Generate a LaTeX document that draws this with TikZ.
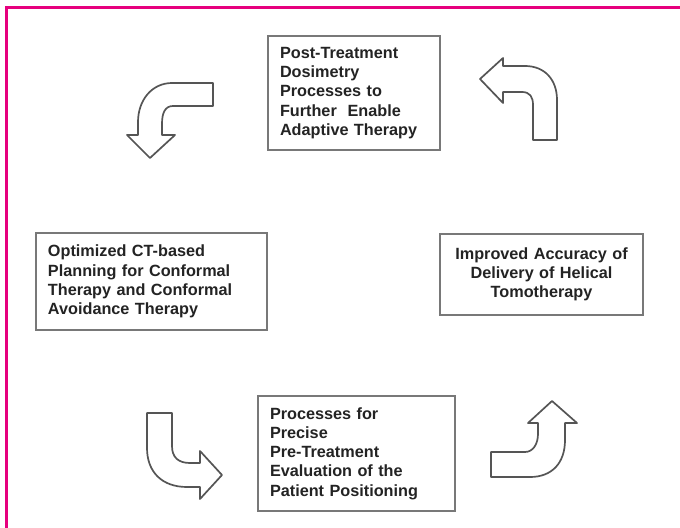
\documentclass[tikz,border=0pt]{standalone}
\usepackage{fontspec}
\setmainfont{Liberation Sans}
\definecolor{frame}{RGB}{230,0,126}
\definecolor{boxline}{RGB}{120,120,120}
\definecolor{arrline}{RGB}{85,85,85}
\definecolor{txt}{RGB}{35,35,35}
\begin{document}
\begin{tikzpicture}[x=1bp,y=-1bp,
  box/.style={draw=boxline, line width=1.5bp, fill=white, inner xsep=12bp, inner ysep=0pt,
    font=\bfseries\fontsize{16.3}{19.3}\selectfont, text=txt},
  blockarrow/.style={draw=arrline, line width=1.7bp, fill=white, line join=round}]
\useasboundingbox (0,0) rectangle (680,528);
\fill[white] (0,0) rectangle (680,528);
% magenta frame (top and left only)
\draw[frame, line width=3bp] (6,528) -- (6,8) -- (680,8);

% boxes
\node[box, minimum width=172bp, minimum height=114bp, text width=148bp, align=left] (post) at (354,93)
  {Post-Treatment\\Dosimetry\\Processes to\\Further~ Enable\\Adaptive Therapy};
\node[box, minimum width=231bp, minimum height=97bp, text width=207bp, align=left] (plan) at (151.5,281.5)
  {Optimized CT-based\\Planning for Conformal\\Therapy and Conformal\\Avoidance Therapy};
\node[box, minimum width=203bp, minimum height=81bp, text width=179bp, align=center] (deliv) at (541.5,274.5)
  {Improved Accuracy of\\Delivery of Helical\\Tomotherapy};
\node[box, minimum width=197bp, minimum height=115bp, text width=173bp, align=left] (pre) at (356.5,453.5)
  {Processes for\\Precise\\Pre-Treatment\\Evaluation of the\\Patient Positioning};

% curved block arrows
% top-left (down)
\draw[blockarrow] (213,83) -- (172,83) .. controls (152,83) and (138,100) .. (138,122) -- (138,135)
  -- (127,135) -- (150,158) -- (175,135) -- (162,135) -- (162,124)
  .. controls (162,113) and (165,106) .. (173,106) -- (213,106) -- cycle;
% top-right (left)
\draw[blockarrow] (533,140) -- (557,140) -- (557,100) .. controls (557,80) and (545,66) .. (525,66)
  -- (503,66) -- (503,58) -- (480,79) -- (503,103) -- (503,92) -- (522,92)
  .. controls (530,92) and (533,97) .. (533,105) -- cycle;
% bottom-left (right)
\draw[blockarrow] (147,413) -- (172,413) -- (172,446) .. controls (172,457) and (178,463) .. (190,463)
  -- (200,463) -- (200,451) -- (222,475) -- (200,499) -- (200,487) -- (187,487)
  .. controls (162,487) and (147,472) .. (147,448) -- cycle;
% bottom-right (up)
\draw[blockarrow] (491,452) -- (525,452) .. controls (533,452) and (538,444) .. (538,434) -- (538,423)
  -- (528,423) -- (552,401) -- (577,423) -- (565,423) -- (565,440)
  .. controls (565,463) and (552,477) .. (530,477) -- (491,477) -- cycle;
\end{tikzpicture}
\end{document}
